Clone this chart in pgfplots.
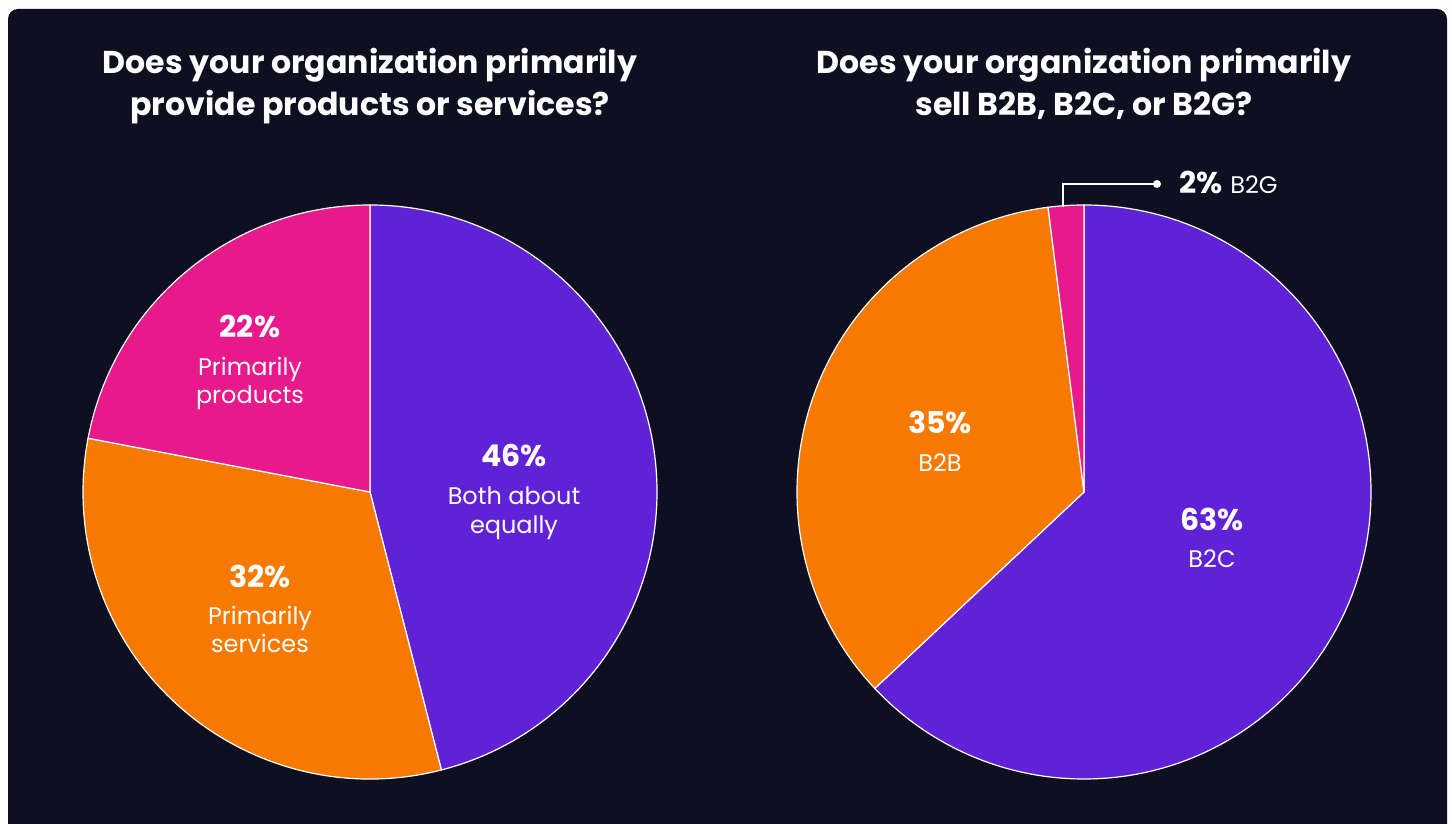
\documentclass[border=0pt]{standalone}
\usepackage{pgfplots}
\pgfplotsset{compat=1.18}
\usepackage{fontspec}
\setmainfont{Poppins}
\definecolor{bg}{RGB}{14,16,34}
\definecolor{cPurple}{RGB}{97,34,215}
\definecolor{cOrange}{RGB}{247,121,0}
\definecolor{cPink}{RGB}{232,25,139}
\newcommand\pie[3]{% cx, cy, list value/colour
  \def\cumA{90}%
  \foreach \v/\c in {#3}{%
    \pgfmathsetmacro\endA{\cumA-3.6*\v}%
    \edef\tmp{\noexpand\fill[\c, draw=white, line width=0.6pt] (axis cs:#1,#2) -- ++(\cumA:143.5pt) arc[start angle=\cumA, end angle=\endA, radius=143.5pt] -- cycle;}%
    \tmp
    \xdef\cumA{\endA}%
  }%
}
\begin{document}
\begin{tikzpicture}
\useasboundingbox (0,0) rectangle (726pt,412pt);
\begin{axis}[
  at={(0,0)}, anchor=south west,
  width=726pt, height=412pt, scale only axis,
  xmin=0, xmax=1452, ymin=0, ymax=824,
  hide axis, clip=false, enlargelimits=false]
\fill[white] (axis cs:0,0) rectangle (axis cs:1452,824);
\fill[bg, rounded corners=5pt] (axis cs:8,-20) rectangle (axis cs:1447,815);
% left pie
\pie{370}{332}{46/cPurple,32/cOrange,22/cPink}
% right pie
\pie{1084}{332}{63/cPurple,35/cOrange,2/cPink}
% titles
\tikzset{tt/.style={text=white, font=\fontsize{15.8}{18}\selectfont\bfseries, anchor=base, inner sep=0pt}}
\node[tt] at (axis cs:370,750) {Does your organization primarily};
\node[tt] at (axis cs:370,708) {provide products or services?};
\node[tt] at (axis cs:1084,750) {Does your organization primarily};
\node[tt] at (axis cs:1084,708) {sell B2B, B2C, or B2G?};
% labels
\tikzset{pc/.style={text=white, font=\fontsize{15}{18}\selectfont\bfseries, anchor=base, inner sep=0pt},
  lb/.style={text=white, font=\fontsize{12}{14}\selectfont, anchor=base, inner sep=0pt}}
\node[pc] at (axis cs:514,357) {46\%};
\node[lb] at (axis cs:514,319) {Both about};
\node[lb] at (axis cs:514,290) {equally};
\node[pc] at (axis cs:250,486) {22\%};
\node[lb] at (axis cs:250,448) {Primarily};
\node[lb] at (axis cs:250,420) {products};
\node[pc] at (axis cs:260,236) {32\%};
\node[lb] at (axis cs:260,199) {Primarily};
\node[lb] at (axis cs:260,171) {services};
\node[pc] at (axis cs:940,390) {35\%};
\node[lb] at (axis cs:940,352) {B2B};
\node[pc] at (axis cs:1212,293) {63\%};
\node[lb] at (axis cs:1212,256) {B2C};
% B2G leader
\draw[white, line width=1pt] (axis cs:1063,617) -- (axis cs:1063,640) -- (axis cs:1157,640);
\fill[white] (axis cs:1157,640) circle[radius=4];
\node[pc, anchor=base west] at (axis cs:1179,630) {2\%};
\node[lb, anchor=base west] at (axis cs:1230,630) {B2G};
\end{axis}
\end{tikzpicture}
\end{document}
